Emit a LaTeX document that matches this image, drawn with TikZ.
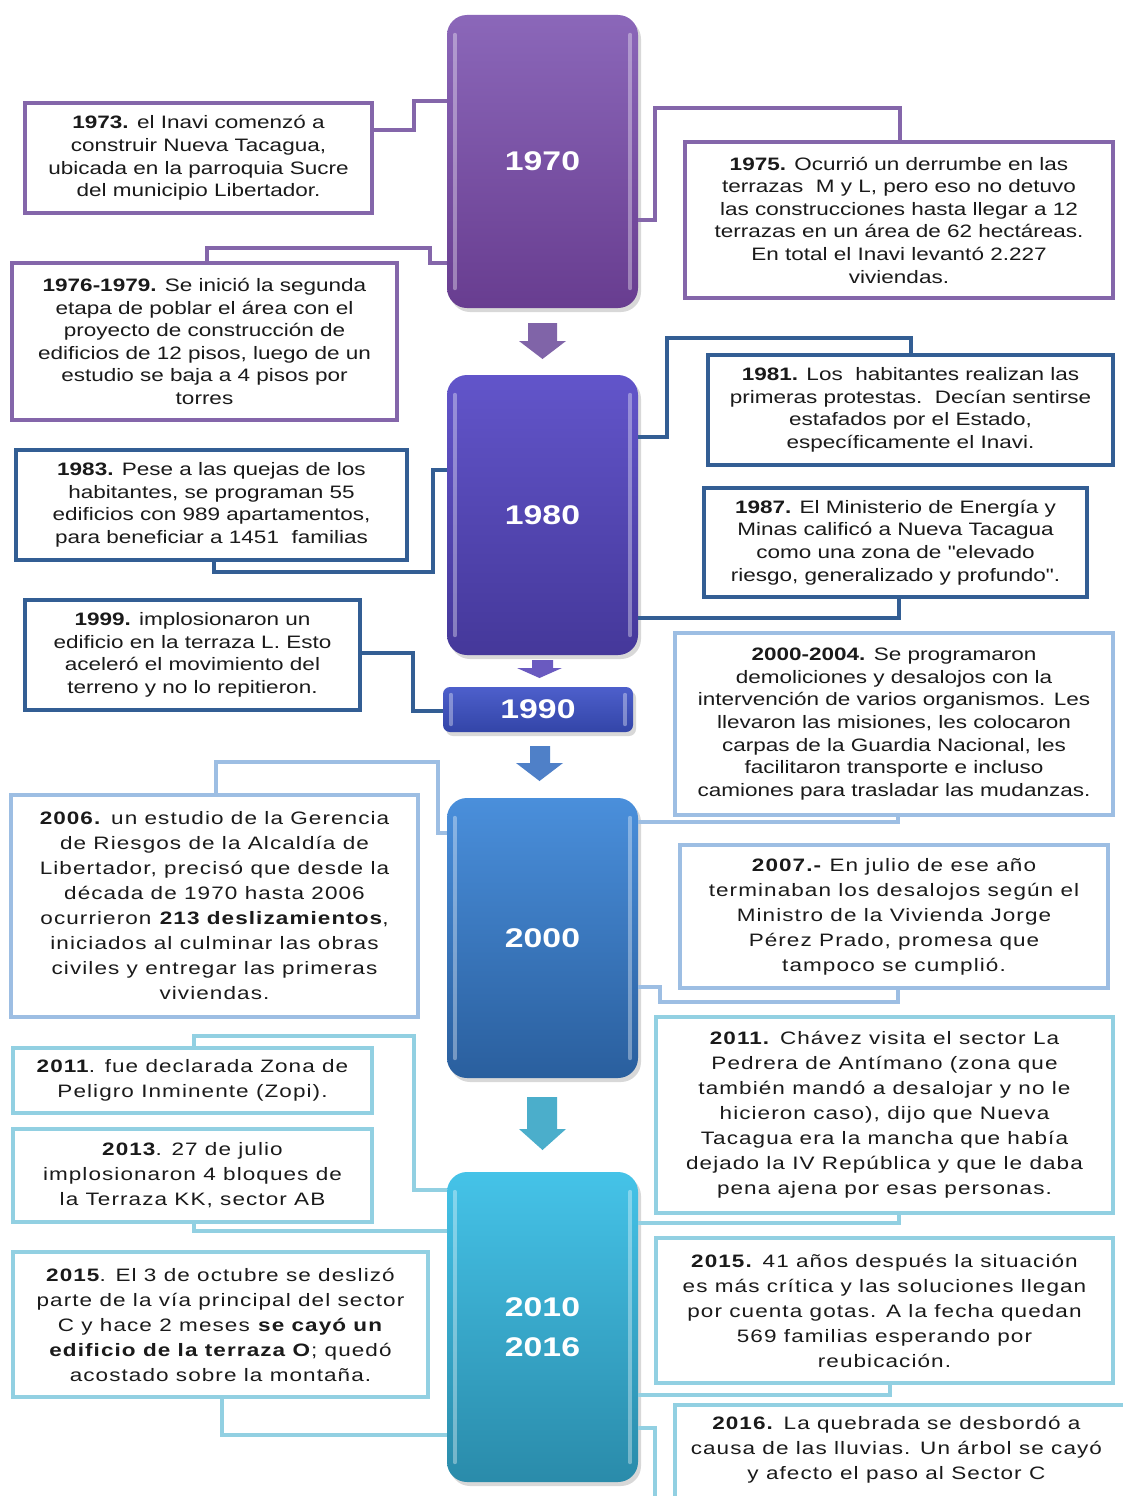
\documentclass[tikz,border=0pt]{standalone}
\usepackage{fontspec}
\setmainfont{Liberation Sans}[FakeStretch=1.25]
\newfontfamily\loosef{Liberation Sans}[FakeStretch=1.25,LetterSpace=6]
\newfontfamily\qf{Liberation Sans}[FakeStretch=1.25]
\usetikzlibrary{shadows,calc}
\definecolor{cP}{HTML}{8466AA}
\definecolor{cD}{HTML}{335E94}
\definecolor{cL}{HTML}{9DBEE3}
\definecolor{cC}{HTML}{92D0E2}
\definecolor{tx}{HTML}{1A1A1A}
\definecolor{pA}{HTML}{8B67B9}\definecolor{pB}{HTML}{683D90}
\definecolor{vA}{HTML}{6255CA}\definecolor{vB}{HTML}{45389A}
\definecolor{uA}{HTML}{4D5FCB}\definecolor{uB}{HTML}{3345A8}
\definecolor{bA}{HTML}{4A8FDB}\definecolor{bB}{HTML}{2A5F9E}
\definecolor{kA}{HTML}{45C3E8}\definecolor{kB}{HTML}{2A8BAA}
\definecolor{ar1}{HTML}{8064A8}
\definecolor{ar2}{HTML}{6A5AC0}
\definecolor{ar3}{HTML}{4F80C8}
\definecolor{ar4}{HTML}{4BAECB}
\newcommand\shine[2]{%
  \draw[white, opacity=.35, line width=4pt, line cap=round]
    ([xshift=8pt,yshift=-#2]#1.north west) -- ([xshift=8pt,yshift=#2]#1.south west);
  \draw[white, opacity=.35, line width=4pt, line cap=round]
    ([xshift=-8pt,yshift=-#2]#1.north east) -- ([xshift=-8pt,yshift=#2]#1.south east);}
\newcommand\dq{{\qf"}}
\begin{document}
\begin{tikzpicture}[x=1pt,y=-1pt,
  txt/.style={draw, line width=3.2pt, fill=white, inner sep=0pt, align=center, text=tx,
    font=\fontsize{18}{22.6}\selectfont,
    drop shadow={shadow xshift=2pt,shadow yshift=-2pt,opacity=.25}},
  loose/.style={font=\loosef\fontsize{18}{25}\selectfont},
  blk/.style={rounded corners=20pt, inner sep=0pt, text=white,
    font=\fontsize{27}{40}\selectfont\bfseries, align=center,
    drop shadow={shadow xshift=3pt,shadow yshift=-4pt,opacity=.3}},
  con/.style={line width=3.5pt},
]
\fill[white] (0,0) rectangle (1122,1496);
\useasboundingbox (0,0) rectangle (1122,1496);

% ---- timeline blocks
\node[blk, top color=pA, bottom color=pB, minimum width=191pt, minimum height=293pt] (b70) at (542.5,161.5) {1970};
\node[blk, top color=vA, bottom color=vB, minimum width=191pt, minimum height=280pt] (b80) at (542.5,515) {1980};
\node[blk, rounded corners=7pt, top color=uA, bottom color=uB, minimum width=190pt, minimum height=45pt] (b90) at (538,709.5) {1990};
\node[blk, top color=bA, bottom color=bB, minimum width=191pt, minimum height=280pt] (b00) at (542.5,938) {2000};
\node[blk, top color=kA, bottom color=kB, minimum width=191pt, minimum height=310pt] (b10) at (542.5,1327) {2010\\2016};
\shine{b70}{20pt}\shine{b80}{20pt}\shine{b00}{20pt}\shine{b10}{20pt}\shine{b90}{8pt}

% ---- block arrows
\fill[ar1] (528,323) -- (557,323) -- (557,341) -- (566,341) -- (542.5,359) -- (519,341) -- (528,341) -- cycle;
\fill[ar2] (532,660) -- (553,660) -- (553,668) -- (562,668) -- (539.5,678) -- (517,668) -- (532,668) -- cycle;
\fill[ar3] (530,746) -- (550,746) -- (550,763) -- (563,763) -- (539.5,781) -- (516,763) -- (530,763) -- cycle;
\fill[ar4] (527,1097) -- (557,1097) -- (557,1129) -- (566,1129) -- (542.5,1150) -- (519,1129) -- (527,1129) -- cycle;

% ---- text boxes
\node[txt, draw=cP, minimum width=347pt, minimum height=110pt] (n1973) at (198.5,158)
 {\textbf{1973.} el Inavi comenzó a\\construir Nueva Tacagua,\\ubicada en la parroquia Sucre\\del municipio Libertador.};
\node[txt, draw=cP, minimum width=428pt, minimum height=156pt] (n1975) at (899,220)
 {\textbf{1975.} Ocurrió un derrumbe en las\\terrazas\ \ M y L, pero eso no detuvo\\las construcciones hasta llegar a 12\\terrazas en un área de 62 hectáreas.\\En total el Inavi levantó 2.227\\viviendas.};
\node[txt, draw=cP, minimum width=385pt, minimum height=157pt] (n1976) at (204.5,341.5)
 {\textbf{1976-1979.} Se inició la segunda\\etapa de poblar el área con el\\proyecto de construcción de\\edificios de 12 pisos, luego de un\\estudio se baja a 4 pisos por\\torres};
\node[txt, draw=cD, minimum width=405pt, minimum height=110pt] (n1981) at (910.5,410)
 {\textbf{1981.} Los\ \ habitantes realizan las\\primeras protestas.\ \ Decían sentirse\\estafados por el Estado,\\específicamente el Inavi.};
\node[txt, draw=cD, minimum width=391pt, minimum height=110pt] (n1983) at (211.5,505)
 {\textbf{1983.} Pese a las quejas de los\\habitantes, se programan 55\\edificios con 989 apartamentos,\\para beneficiar a 1451\ \ familias};
\node[txt, draw=cD, minimum width=383pt, minimum height=109pt] (n1987) at (895.5,542.5)
 {\textbf{1987.} El Ministerio de Energía y\\Minas calificó a Nueva Tacagua\\como una zona de \dq elevado\\riesgo, generalizado y profundo\dq.};
\node[txt, draw=cD, minimum width=335pt, minimum height=110pt] (n1999) at (192.5,655)
 {\textbf{1999.} implosionaron un\\edificio en la terraza L. Esto\\aceleró el movimiento del\\terreno y no lo repitieron.};
\node[txt, draw=cL, minimum width=438pt, minimum height=182pt] (n2000) at (894,724)
 {\textbf{2000-2004.} Se programaron\\demoliciones y desalojos con la\\intervención de varios organismos. Les\\llevaron las misiones, les colocaron\\carpas de la Guardia Nacional, les\\facilitaron transporte e incluso\\camiones para trasladar las mudanzas.};
\node[txt, loose, draw=cL, minimum width=407pt, minimum height=222pt] (n2006) at (214.5,906)
 {\textbf{2006.} un estudio de la Gerencia\\de Riesgos de la Alcaldía de\\Libertador, precisó que desde la\\década de 1970 hasta 2006\\ocurrieron \textbf{213 deslizamientos},\\iniciados al culminar las obras\\civiles y entregar las primeras\\viviendas.};
\node[txt, loose, draw=cL, minimum width=428pt, minimum height=143pt] (n2007) at (894,916.5)
 {\textbf{2007.-} En julio de ese año\\terminaban los desalojos según el\\Ministro de la Vivienda Jorge\\Pérez Prado, promesa que\\tampoco se cumplió.};
\node[txt, loose, draw=cC, minimum width=359pt, minimum height=65pt] (n2011z) at (192.5,1080.5)
 {\textbf{2011}. fue declarada Zona de\\Peligro Inminente (Zopi).};
\node[txt, loose, draw=cC, minimum width=457pt, minimum height=196pt] (n2011c) at (884.5,1115)
 {\textbf{2011.} Chávez visita el sector La\\Pedrera de Antímano (zona que\\también mandó a desalojar y no le\\hicieron caso), dijo que Nueva\\Tacagua era la mancha que había\\dejado la IV República y que le daba\\pena ajena por esas personas.};
\node[txt, loose, draw=cC, minimum width=359pt, minimum height=93pt] (n2013) at (192.5,1175.5)
 {\textbf{2013}. 27 de julio\\implosionaron 4 bloques de\\la Terraza KK, sector AB};
\node[txt, loose, draw=cC, minimum width=415pt, minimum height=145pt] (n2015l) at (220.5,1324.5)
 {\textbf{2015}. El 3 de octubre se deslizó\\parte de la vía principal del sector\\C y hace 2 meses \textbf{se cayó un}\\\textbf{edificio de la terraza O}; quedó\\acostado sobre la montaña.};
\node[txt, loose, draw=cC, minimum width=457pt, minimum height=145pt] (n2015r) at (884.5,1310.5)
 {\textbf{2015.} 41 años después la situación\\es más crítica y las soluciones llegan\\por cuenta gotas. A la fecha quedan\\569 familias esperando por\\reubicación.};
\node[txt, draw=cC, minimum width=460pt, minimum height=115pt] (n2016) at (905,1462.5) {};
\node[loose, text=tx, align=center, inner sep=0pt] (t2016) at ($(n2016.north west)+(223,46)$)
 {\textbf{2016.} La quebrada se desbordó a\\causa de las lluvias. Un árbol se cayó\\y afecto el paso al Sector C};

% ---- connectors
\draw[con, cP] (n1973.east |- 0,130) -- (414,130) -- (414,101) -- (b70.west |- 0,101);
\draw[con, cP] (n1976.north -| 207,0) -- (207,248) -- (430,248) -- (430,263) -- (b70.west |- 0,263);
\draw[con, cP] (n1975.north -| 900,0) -- (900,108) -- (655,108) -- (655,220) -- (b70.east |- 0,220);
\draw[con, cD] (n1981.north -| 911,0) -- (911,338) -- (667,338) -- (667,437) -- (b80.east |- 0,437);
\draw[con, cD] (n1983.south -| 214,0) -- (214,572) -- (433,572) -- (433,470) -- (b80.west |- 0,470);
\draw[con, cD] (n1987.south -| 899,0) -- (899,618) -- (b80.east |- 0,618);
\draw[con, cD] (n1999.east |- 0,653) -- (413,653) -- (413,711) -- (b90.west |- 0,711);
\draw[con, cL] (n2000.south -| 898,0) -- (898,822) -- (b00.east |- 0,822);
\draw[con, cL] (n2006.north -| 216,0) -- (216,762) -- (438,762) -- (438,833) -- (b00.west |- 0,833);
\draw[con, cL] (n2007.south -| 898,0) -- (898,1002) -- (660,1002) -- (660,987) -- (b00.east |- 0,987);
\draw[con, cC] (n2011c.south -| 899,0) -- (899,1223) -- (b10.east |- 0,1223);
\draw[con, cC] (n2011z.north -| 194,0) -- (194,1036) -- (414,1036) -- (414,1190) -- (b10.west |- 0,1190);
\draw[con, cC] (n2013.south -| 194,0) -- (194,1231) -- (b10.west |- 0,1231);
\draw[con, cC] (n2015l.south -| 222,0) -- (222,1435) -- (b10.west |- 0,1435);
\draw[con, cC] (n2015r.south -| 890,0) -- (890,1395) -- (b10.east |- 0,1395);
\coordinate (e2016) at (655,1500);
\draw[con, cC] (b10.east |- 0,1428) -- (655,1428) -- (e2016);
\end{tikzpicture}
\end{document}
